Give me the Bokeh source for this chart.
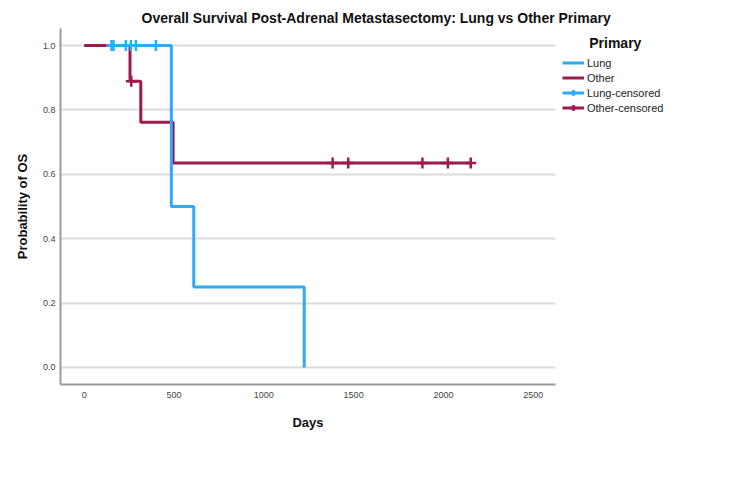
import math
from bokeh.plotting import figure
from bokeh.models import Legend, LegendItem, Range1d, FixedTicker, Title, CustomJSTickFormatter
from bokeh.embed import file_html
from bokeh.resources import INLINE

# ---- data ----
lung_times = [150, 485, 610, 1225]
lung_surv = [1.0, 0.5, 0.25, 0.0]
other_times = [0, 255, 315, 495, 2152]
other_surv = [1.0, 0.889, 0.762, 0.635, 0.635]
lung_cens_t = [152, 163, 232, 260, 288, 399]
lung_cens_s = [1.0, 1.0, 1.0, 1.0, 1.0, 1.0]
other_cens_t = [262, 1383, 1470, 1883, 2025, 2152]
other_cens_s = [0.889, 0.635, 0.635, 0.635, 0.635, 0.635]
x_ticks = [0, 500, 1000, 1500, 2000, 2500]
y_ticks = [0.0, 0.2, 0.4, 0.6, 0.8, 1.0]

BLUE = "#2EAAF6"
RED = "#9C1A4D"
FONT = "Liberation Sans"

p = figure(frame_width=495, frame_height=356, output_backend="svg", toolbar_location=None,
           x_range=Range1d(-132, 2624), y_range=Range1d(-0.053, 1.053),
           min_border_left=60, min_border_right=195, min_border_top=28,
           min_border_bottom=103)
p.outline_line_color = None
p.background_fill_color = "white"

t = Title(text="Overall Survival Post-Adrenal Metastasectomy: Lung vs Other Primary",
          align="left", offset=81, text_font=FONT, text_font_size="14px",
          text_font_style="bold", text_color="#111111", standoff=5)
p.add_layout(t, "above")

# axes
for ax in (p.xaxis[0], p.yaxis[0]):
    ax.axis_line_color = "#9a9a9a"
    ax.axis_line_width = 2
    ax.major_tick_line_color = None
    ax.minor_tick_line_color = None
    ax.major_tick_out = 0
    ax.major_tick_in = 0
    ax.minor_tick_out = 0
    ax.major_label_text_font = FONT
    ax.major_label_text_font_size = "9px"
    ax.major_label_text_color = "#444444"
    ax.axis_label_text_font = FONT
    ax.axis_label_text_font_size = "13px"
    ax.axis_label_text_font_style = "bold"
    ax.axis_label_text_color = "#111111"

p.xaxis.ticker = FixedTicker(ticks=x_ticks)
p.yaxis.ticker = FixedTicker(ticks=y_ticks)
p.yaxis.formatter = CustomJSTickFormatter(code="return tick.toFixed(1);")
p.xaxis.axis_label = "Days"
p.yaxis.axis_label = "Probability of OS"
p.xaxis.major_label_standoff = 7
p.yaxis.major_label_standoff = 5
p.xaxis.axis_label_standoff = 14
p.yaxis.axis_label_standoff = 10

p.xgrid.grid_line_color = None
p.ygrid.grid_line_color = "#dcdcdc"
p.ygrid.grid_line_width = 2

# curves
r_other = p.step(x=other_times, y=other_surv, mode="after", line_color=RED, line_width=3)
r_lung = p.step(x=lung_times, y=lung_surv, mode="after", line_color=BLUE, line_width=3)
r_oc = p.scatter(x=other_cens_t, y=other_cens_s, marker="cross", size=11,
                 line_color=RED, line_width=2.5)
r_lc = p.scatter(x=lung_cens_t, y=lung_cens_s, marker="cross", size=11,
                 line_color=BLUE, line_width=2.5)
# invisible helpers so the censored legend entries show a horizontal stroke too
d_lung = p.line(x=[math.nan], y=[math.nan], line_color=BLUE, line_width=3)
d_other = p.line(x=[math.nan], y=[math.nan], line_color=RED, line_width=3)

legend = Legend(items=[
    LegendItem(label="Lung", renderers=[r_lung]),
    LegendItem(label="Other", renderers=[r_other]),
    LegendItem(label="Lung-censored", renderers=[d_lung, r_lc]),
    LegendItem(label="Other-censored", renderers=[d_other, r_oc]),
], location="top_left")
legend.title = "\u00a0\u00a0\u00a0\u00a0\u00a0\u00a0\u00a0Primary"
legend.title_text_font = FONT
legend.title_text_font_size = "14px"
legend.title_text_font_style = "bold"
legend.title_text_color = "#111111"
legend.title_standoff = 4
legend.label_text_font = FONT
legend.label_text_font_size = "11px"
legend.label_text_color = "#222222"
legend.glyph_width = 22
legend.glyph_height = 15
legend.label_height = 15
legend.spacing = 0
legend.label_standoff = 3
legend.padding = 7
legend.margin = 7
legend.border_line_color = None
legend.background_fill_alpha = 0
p.add_layout(legend, "right")

open("out.html", "w").write(file_html(p, INLINE))
